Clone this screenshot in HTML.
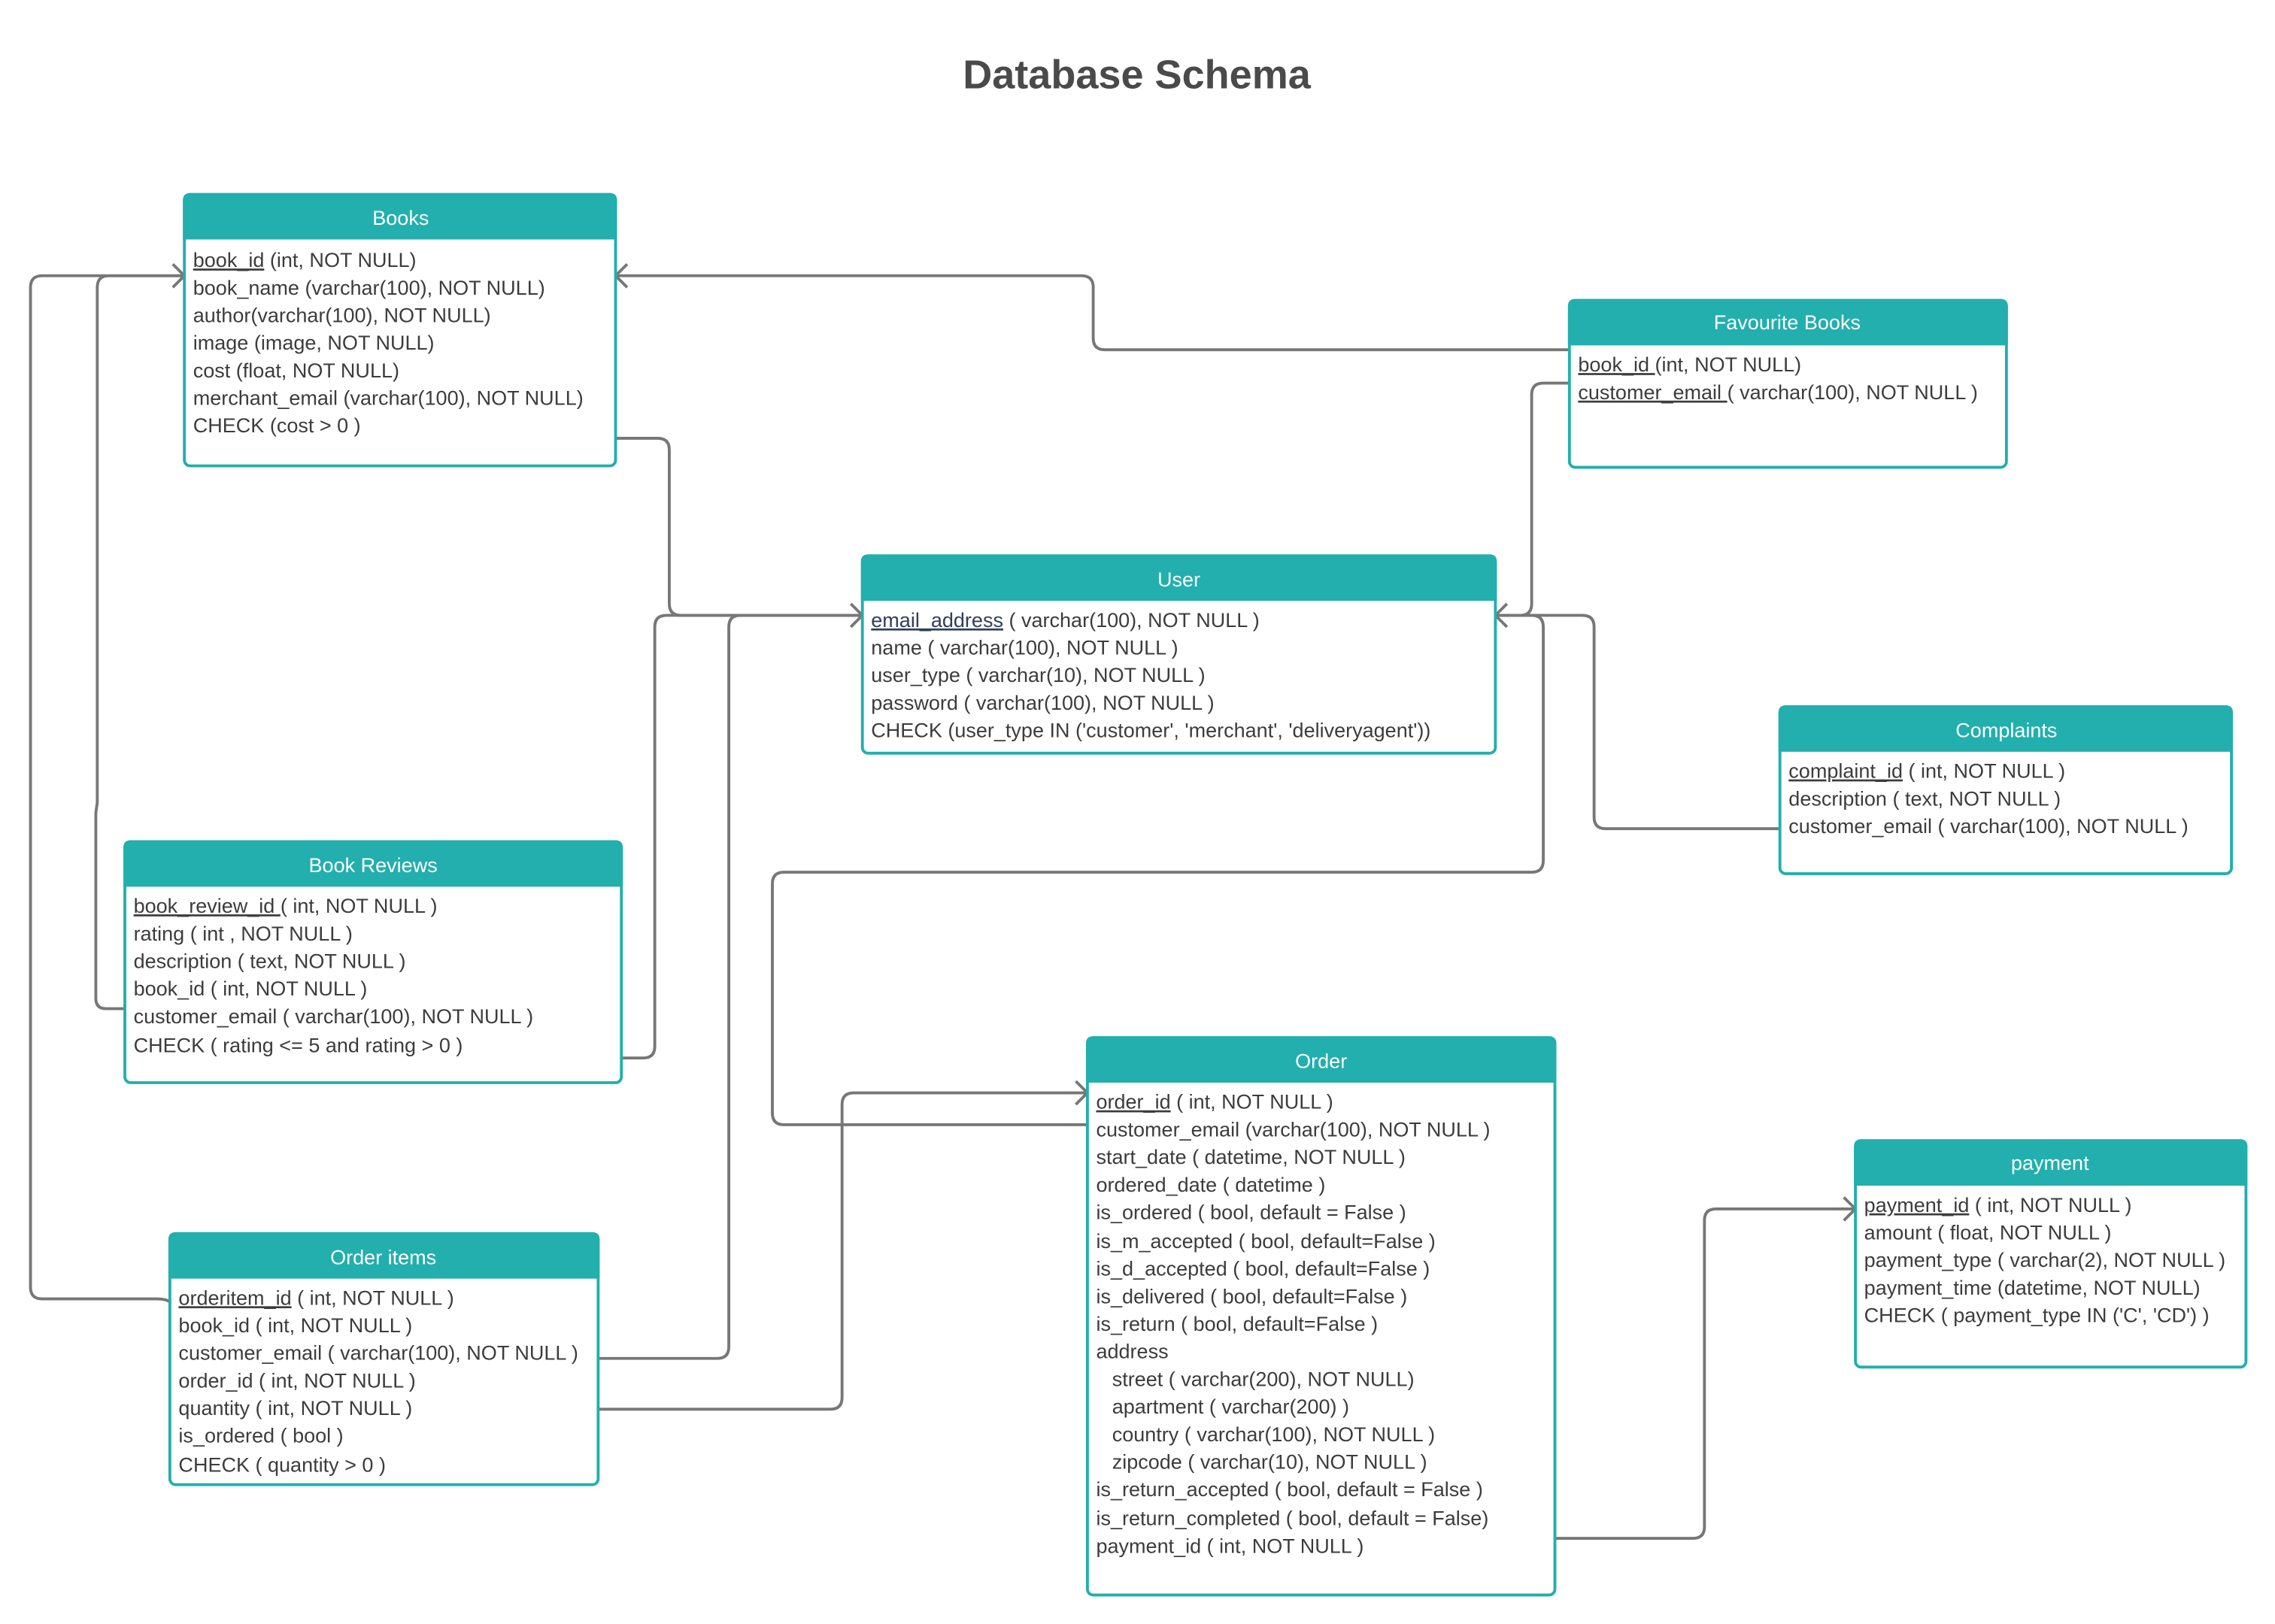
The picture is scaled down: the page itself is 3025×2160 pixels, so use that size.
<!DOCTYPE html>
<html><head><meta charset="utf-8"><style>
html,body{margin:0;padding:0;background:#fff;}
svg{display:block}
text{font-family:"Liberation Sans","DejaVu Sans",sans-serif;}
.h{fill:#fff;font-size:14px;text-anchor:middle}
.r{fill:#3c3c3c;font-size:14px}
.u{text-decoration:underline}
.c{fill:none;stroke:#777;stroke-width:2;stroke-linejoin:round}
</style></head><body>
<svg width="3025" height="2160" viewBox="0 0 1567 1119" preserveAspectRatio="none" xmlns="http://www.w3.org/2000/svg">
<text x="783" y="61" style="font-size:28px;font-weight:bold;fill:#4a4a4a;text-anchor:middle">Database Schema</text>

<!-- connectors -->
<g class="c">
<path d="M1081 241 H761 Q753 241 753 233 V198 Q753 190 745 190 H424"/>
<path d="M1081 264 H1063 Q1055 264 1055 272 V416 Q1055 424 1047 424 H1030"/>
<path d="M424 302 H453 Q461 302 461 310 V416 Q461 424 469 424 H594"/>
<path d="M428 729 H443 Q451 729 451 721 V432 Q451 424 459 424 H594"/>
<path d="M412 936 H494 Q502 936 502 928 V432 Q502 424 510 424 H594"/>
<path d="M412 971 H572 Q580 971 580 963 V761 Q580 753 588 753 H749"/>
<path d="M749 775 H540 Q532 775 532 767 V609 Q532 601 540 601 H1055 Q1063 601 1063 593 V432 Q1063 424 1055 424 H1030"/>
<path d="M1226 571 H1106 Q1098 571 1098 563 V432 Q1098 424 1090 424 H1030"/>
<path d="M86 695 H73 Q66 695 66 688 V560 L67 553 V198 Q67 190 75 190 H127"/>
<path d="M117 897 Q114 895 108 895 H29 Q21 895 21 887 V198 Q21 190 29 190 H127"/>
<path d="M1071 1060 H1166 Q1174 1060 1174 1052 V841 Q1174 833 1182 833 H1278"/>
<!-- arrowheads -->
<path d="M119 182 L127 190 L119 198"/>
<path d="M432 182 L424 190 L432 198"/>
<path d="M586 416 L594 424 L586 432"/>
<path d="M1038 416 L1030 424 L1038 432"/>
<path d="M741 745 L749 753 L741 761"/>
<path d="M1270 825 L1278 833 L1270 841"/>
</g>

<!-- tables -->
<g>
<rect x="127" y="134" width="297" height="187" rx="4" fill="#fff" stroke="#22afad" stroke-width="2"/>
<path d="M127 164 V138 Q127 134 131 134 H420 Q424 134 424 138 V164 Z" fill="#22afad" stroke="#22afad" stroke-width="2"/>
<text class="h" x="276" y="155">Books</text>
<text class="r" x="133" y="184"><tspan class="u">book_id</tspan> (int, NOT NULL)</text>
<text class="r" x="133" y="203">book_name (varchar(100), NOT NULL)</text>
<text class="r" x="133" y="222">author(varchar(100), NOT NULL)</text>
<text class="r" x="133" y="241">image  (image, NOT NULL)</text>
<text class="r" x="133" y="260">cost (float, NOT NULL)</text>
<text class="r" x="133" y="279">merchant_email  (varchar(100), NOT NULL)</text>
<text class="r" x="133" y="298">CHECK (cost &gt; 0 )</text>
</g>
<g>
<rect x="1081" y="207" width="301" height="115" rx="4" fill="#fff" stroke="#22afad" stroke-width="2"/>
<path d="M1081 237 V211 Q1081 207 1085 207 H1378 Q1382 207 1382 211 V237 Z" fill="#22afad" stroke="#22afad" stroke-width="2"/>
<text class="h" x="1231" y="227">Favourite Books</text>
<text class="r" x="1087" y="256"><tspan class="u">book_id </tspan>(int, NOT NULL)</text>
<text class="r" x="1087" y="275"><tspan class="u">customer_email </tspan>( varchar(100), NOT NULL )</text>
</g>
<g>
<rect x="594" y="383" width="436" height="136" rx="4" fill="#fff" stroke="#22afad" stroke-width="2"/>
<path d="M594 413 V387 Q594 383 598 383 H1026 Q1030 383 1030 387 V413 Z" fill="#22afad" stroke="#22afad" stroke-width="2"/>
<text class="h" x="812" y="404">User</text>
<text class="r" x="600" y="432"><tspan class="u" style="fill:#2e3f5c">email_address</tspan> ( varchar(100), NOT NULL )</text>
<text class="r" x="600" y="451">name ( varchar(100), NOT NULL )</text>
<text class="r" x="600" y="470">user_type ( varchar(10), NOT NULL )</text>
<text class="r" x="600" y="489">password ( varchar(100), NOT NULL )</text>
<text class="r" x="600" y="508">CHECK (user_type IN ('customer', 'merchant', 'deliveryagent'))</text>
</g>
<g>
<rect x="1226" y="487" width="311" height="115" rx="4" fill="#fff" stroke="#22afad" stroke-width="2"/>
<path d="M1226 517 V491 Q1226 487 1230 487 H1533 Q1537 487 1537 491 V517 Z" fill="#22afad" stroke="#22afad" stroke-width="2"/>
<text class="h" x="1382" y="508">Complaints</text>
<text class="r" x="1232" y="536"><tspan class="u">complaint_id</tspan> ( int, NOT NULL )</text>
<text class="r" x="1232" y="555">description ( text, NOT NULL )</text>
<text class="r" x="1232" y="574">customer_email ( varchar(100), NOT NULL )</text>
</g>
<g>
<rect x="86" y="580" width="342" height="166" rx="4" fill="#fff" stroke="#22afad" stroke-width="2"/>
<path d="M86 610 V584 Q86 580 90 580 H424 Q428 580 428 584 V610 Z" fill="#22afad" stroke="#22afad" stroke-width="2"/>
<text class="h" x="257" y="601">Book Reviews</text>
<text class="r" x="92" y="629"><tspan class="u">book_review_id </tspan>( int, NOT NULL )</text>
<text class="r" x="92" y="648">rating ( int , NOT NULL )</text>
<text class="r" x="92" y="667">description ( text, NOT NULL )</text>
<text class="r" x="92" y="686">book_id ( int, NOT NULL )</text>
<text class="r" x="92" y="705">customer_email ( varchar(100), NOT NULL )</text>
<text class="r" x="92" y="725">CHECK ( rating &lt;= 5 and rating &gt; 0 )</text>
</g>
<g>
<rect x="117" y="850" width="295" height="173" rx="4" fill="#fff" stroke="#22afad" stroke-width="2"/>
<path d="M117 880 V854 Q117 850 121 850 H408 Q412 850 412 854 V880 Z" fill="#22afad" stroke="#22afad" stroke-width="2"/>
<text class="h" x="264" y="871">Order items</text>
<text class="r" x="123" y="899"><tspan class="u">orderitem_id</tspan> ( int, NOT NULL )</text>
<text class="r" x="123" y="918">book_id ( int, NOT NULL )</text>
<text class="r" x="123" y="937">customer_email ( varchar(100), NOT NULL )</text>
<text class="r" x="123" y="956">order_id ( int, NOT NULL )</text>
<text class="r" x="123" y="975">quantity ( int, NOT NULL )</text>
<text class="r" x="123" y="994">is_ordered ( bool )</text>
<text class="r" x="123" y="1014">CHECK ( quantity &gt; 0 )</text>
</g>
<g>
<rect x="749" y="715" width="322" height="384" rx="4" fill="#fff" stroke="#22afad" stroke-width="2"/>
<path d="M749 745 V719 Q749 715 753 715 H1067 Q1071 715 1071 719 V745 Z" fill="#22afad" stroke="#22afad" stroke-width="2"/>
<text class="h" x="910" y="736">Order</text>
<text class="r" x="755" y="764"><tspan class="u">order_id</tspan> ( int, NOT NULL )</text>
<text class="r" x="755" y="783">customer_email (varchar(100), NOT NULL )</text>
<text class="r" x="755" y="802">start_date ( datetime, NOT NULL )</text>
<text class="r" x="755" y="821">ordered_date ( datetime )</text>
<text class="r" x="755" y="840">is_ordered ( bool, default = False )</text>
<text class="r" x="755" y="860">is_m_accepted  ( bool, default=False )</text>
<text class="r" x="755" y="879">is_d_accepted ( bool, default=False )</text>
<text class="r" x="755" y="898">is_delivered ( bool, default=False )</text>
<text class="r" x="755" y="917">is_return ( bool, default=False )</text>
<text class="r" x="755" y="936">address</text>
<text class="r" x="766" y="955">street ( varchar(200), NOT NULL)</text>
<text class="r" x="766" y="974">apartment ( varchar(200) )</text>
<text class="r" x="766" y="993">country ( varchar(100), NOT NULL )</text>
<text class="r" x="766" y="1012">zipcode ( varchar(10), NOT NULL )</text>
<text class="r" x="755" y="1031">is_return_accepted ( bool, default = False )</text>
<text class="r" x="755" y="1051">is_return_completed ( bool, default = False)</text>
<text class="r" x="755" y="1070">payment_id ( int, NOT NULL )</text>
</g>
<g>
<rect x="1278" y="786" width="269" height="156" rx="4" fill="#fff" stroke="#22afad" stroke-width="2"/>
<path d="M1278 816 V790 Q1278 786 1282 786 H1543 Q1547 786 1547 790 V816 Z" fill="#22afad" stroke="#22afad" stroke-width="2"/>
<text class="h" x="1412" y="806">payment</text>
<text class="r" x="1284" y="835"><tspan class="u">payment_id</tspan> ( int, NOT NULL )</text>
<text class="r" x="1284" y="854">amount ( float, NOT NULL )</text>
<text class="r" x="1284" y="873">payment_type ( varchar(2), NOT NULL )</text>
<text class="r" x="1284" y="892">payment_time (datetime, NOT NULL)</text>
<text class="r" x="1284" y="911">CHECK ( payment_type IN ('C', 'CD') )</text>
</g>
</svg>
</body></html>
